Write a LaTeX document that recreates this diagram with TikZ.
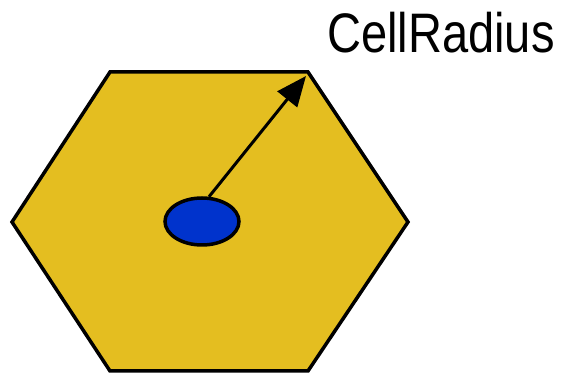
\documentclass[tikz,border=0pt]{standalone}
\usepackage{fontspec}
\setmainfont{Liberation Sans}
\usetikzlibrary{arrows.meta,shapes.geometric}
\definecolor{hexfill}{RGB}{228,190,32}
\definecolor{dotblue}{RGB}{0,51,204}
\begin{document}
\begin{tikzpicture}[x=1pt,y=-1pt,
  cell/.style={draw=black,fill=hexfill,line width=3.5pt,line join=miter},
  station/.style={ellipse,draw=black,fill=dotblue,line width=3.5pt,minimum width=74pt,minimum height=47pt,inner sep=0pt},
  radius/.style={draw=black,line width=3pt,-{Triangle[length=30pt,width=25pt]}},
  lbl/.style={inner sep=0pt,font=\fontsize{48pt}{50pt}\selectfont}]
\useasboundingbox (0,0) rectangle (566,374);
\draw[cell] (110,72) -- (308,72) -- (408,222) -- (308,371) -- (110,371) -- (12,222) -- cycle;
\coordinate (tip) at (306,76);
\node[station] (bs) at (202,221.5) {};
\draw[radius] (bs.north) ++(7,0.5) coordinate (top) -- (tip);
\node[lbl,anchor=base west] (cr) at (327,53) {\scalebox{0.98}[1.16]{CellRadius}};
\end{tikzpicture}
\end{document}
